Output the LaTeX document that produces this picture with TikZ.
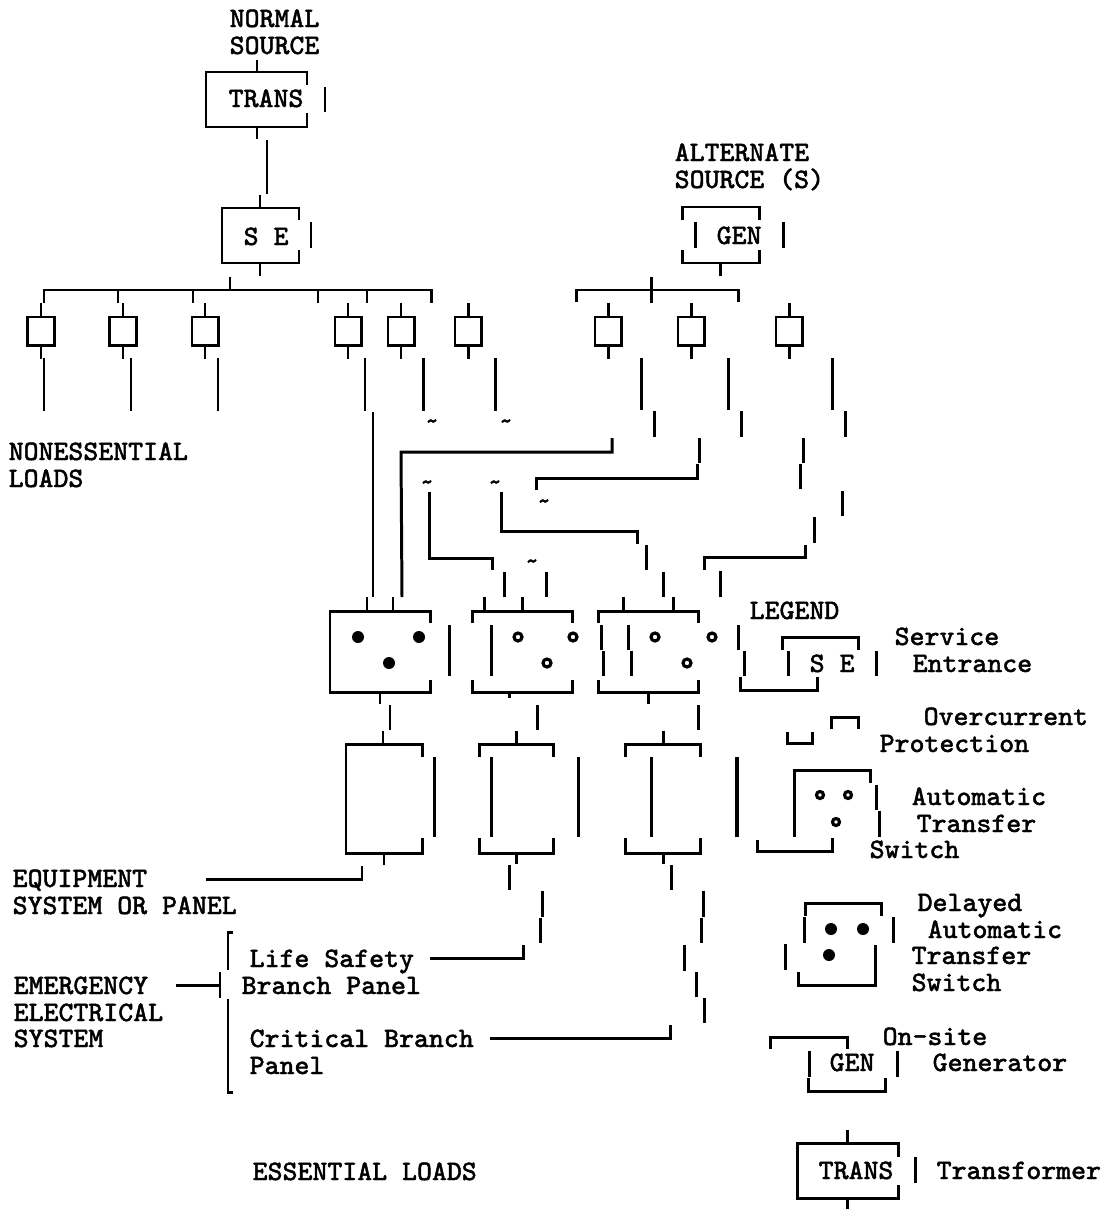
\documentclass[tikz,border=0pt]{standalone}
\usepackage{fontspec}
\newfontfamily\typewr[FakeBold=1.6]{Latin Modern Mono}
\tikzset{
  wire/.style={line width=0.85pt},
  lbl/.style={anchor=west, inner sep=0pt, text height=0.18cm, text depth=0pt,
    font=\fontsize{8.0}{9}\selectfont\typewr},
  tilde/.style={inner sep=0pt, font=\fontsize{7}{8}\selectfont\typewr},
  breaker/.style={draw, line width=0.85pt, minimum width=0.26cm, minimum height=0.28cm, inner sep=0pt},
  opendot/.style={line width=0.9pt},
}
\begin{document}
\begin{tikzpicture}[x=0.01cm, y=-0.01cm]
    \useasboundingbox (0, 0) rectangle (1104, 1209);

    % Normal source, transformer and service entrance
    \node[lbl] (normal) at (229, 18) {NORMAL};
    \node[lbl] (source) at (229, 45) {SOURCE};
    \node[lbl] (trans) at (228, 98) {TRANS};
    \node[lbl] (se) at (243, 236) {S E};
    \draw[wire] (307, 85) -- (307, 72) -- (206, 72) -- (206, 127) -- (307, 127) -- (307, 113);
    \draw[wire] (299, 220) -- (299, 208) -- (222, 208) -- (222, 263) -- (299, 263) -- (299, 250);

    % Bus under the service entrance
    \draw[wire] (44, 303) -- (44, 290) -- (431, 290) -- (431, 303);
    \foreach \tx in {118, 193, 318, 367}
      \draw[wire] (\tx, 290) -- (\tx, 303);
    \draw[wire] (230, 277) -- (230, 290);

    % Breakers on both buses
    \foreach \n/\bx in {1/41, 2/123, 3/205, 4/348, 5/401, 6/468, 7/608, 8/691, 9/789} {
      \node[breaker] (brk\n) at (\bx, 331) {};
      \draw[wire] (brk\n.north) -- ++(0, -13);
      \draw[wire] (brk\n.south) -- ++(0, 12);
    }

    % Alternate source
    \node[lbl] (alternate) at (674, 152) {ALTERNATE};
    \node[lbl] (altsource) at (674, 179) {SOURCE (S)};
    \node[lbl] (gen) at (716, 235) {GEN};
    \draw[wire] (682, 220) -- (682, 207) -- (759, 207) -- (759, 220);
    \draw[wire] (682, 250) -- (682, 263) -- (759, 263) -- (759, 250);
    \draw[wire] (576, 302) -- (576, 290) -- (738, 290) -- (738, 302);
    \draw[wire] (651, 277) -- (651, 303);

    % Loose vertical pieces: x, top, bottom
    \foreach \bx/\ya/\yb in {
      257/60/72, 325/87/112, 257/127/139, 267/140/194, 260/195/208, 311/222/248,
      260/263/276, 695/222/248, 783/222/248, 720/263/276,
      44/358/411, 131/358/411, 218/358/411, 365/358/411, 423/358/411, 495/358/411,
      641/358/410, 728/358/410, 832/358/410, 654/411/437, 741/411/437, 845/411/437,
      699/438/463, 803/438/463, 800/464/489, 842/491/516, 814/517/543, 646/545/570,
      373/412/597, 504/572/597, 546/572/597, 663/572/597, 720/571/597,
      367/597/611, 393/597/611, 484/597/611, 522/597/611, 623/597/611, 673/597/611,
      449/625/676, 491/625/676, 601/625/650, 603/651/676, 628/625/650, 631/651/676,
      380/692/704, 509/692/698, 648/692/704, 390/705/730, 537/705/730, 698/705/730,
      383/731/744, 516/731/744, 663/731/744,
      434/757/837, 491/757/837, 578/757/837, 651/757/837, 737.5/757/837,
      384/853/865, 516/853/864, 663/853/864, 509/865/890, 671/865/890,
      542/891/917, 540/918/943, 703/891/917, 701/918/943,
      684/945/971, 696/972/997, 704/998/1023, 220/972/998}
      \draw[wire] (\bx, \ya) -- (\bx, \yb);

    % Feeders that turn
    \draw[wire] (612, 438) -- (612, 452) -- (401, 452) -- (402, 597);
    \draw[wire] (697, 464) -- (697, 478) -- (536, 478) -- (536, 490);
    \draw[wire] (429, 492) -- (429, 558) -- (492, 558) -- (492, 570);
    \draw[wire] (501, 492) -- (501, 531) -- (637, 531) -- (637, 544);
    \draw[wire] (805, 545) -- (805, 557) -- (704, 557) -- (704, 570);

    % Marks on the feeders
    \node[tilde] (m1) at (432, 424) {\textasciitilde};
    \node[tilde] (m2) at (506, 424) {\textasciitilde};
    \node[tilde] (m3) at (544, 504) {\textasciitilde};
    \node[tilde] (m4) at (427, 485) {\textasciitilde};
    \node[tilde] (m5) at (495, 485) {\textasciitilde};
    \node[tilde] (m6) at (532, 564) {\textasciitilde};

    % Transfer switches
    \draw[wire] (430, 623) -- (430, 611) -- (330, 611) -- (330, 692) -- (430, 692) -- (430, 680);
    \draw[wire] (472, 623) -- (472, 611) -- (572, 611) -- (572, 623);
    \draw[wire] (472, 680) -- (472, 692) -- (572, 692) -- (572, 680);
    \draw[wire] (598, 623) -- (598, 611) -- (698, 611) -- (698, 623);
    \draw[wire] (598, 680) -- (598, 692) -- (698, 692) -- (698, 680);
    \foreach \dx/\dy in {358/637, 419/637, 389/663, 831/929, 863/929, 829/955}
      \fill (\dx, \dy) circle (6);
    \foreach \dx/\dy in {518/637, 573/637, 547/663, 655/637, 712/637, 687/663}
      \draw[opendot] (\dx, \dy) circle (4);

    % Panels
    \draw[wire] (422, 757) -- (422, 744) -- (346, 744) -- (346, 853) -- (422, 853) -- (422, 838);
    \draw[wire] (479, 757) -- (479, 744) -- (553, 744) -- (553, 757);
    \draw[wire] (479, 838) -- (479, 853) -- (553, 853) -- (553, 838);
    \draw[wire] (625, 757) -- (625, 744) -- (700, 744) -- (700, 757);
    \draw[wire] (625, 838) -- (625, 853) -- (700, 853) -- (700, 838);

    % Left hand labels and their leaders
    \node[lbl] (nonessential) at (8, 451) {NONESSENTIAL};
    \node[lbl] (nonloads) at (8, 478) {LOADS};
    \node[lbl] (equipment) at (12, 878) {EQUIPMENT};
    \node[lbl] (eqsystem) at (12, 905) {SYSTEM OR PANEL};
    \node[lbl] (emergency) at (13, 985) {EMERGENCY};
    \node[lbl] (electrical) at (13, 1012) {ELECTRICAL};
    \node[lbl] (emsystem) at (13, 1038) {SYSTEM};
    \node[lbl] (life) at (249, 958) {Life Safety};
    \node[lbl] (branch) at (241, 985) {Branch Panel};
    \node[lbl] (critical) at (249, 1038) {Critical Branch};
    \node[lbl] (panel) at (249, 1065) {Panel};
    \node[lbl] (essential) at (252, 1171) {ESSENTIAL LOADS};
    \draw[wire] (362, 866) -- (362, 879) -- (206, 879);
    \draw[wire] (523, 945) -- (523, 958) -- (430, 958);
    \draw[wire] (670, 1025) -- (670, 1038) -- (490, 1038);
    \draw[wire] (176, 985) -- (220, 985);
    \draw[wire] (233, 932) -- (228, 932) -- (228, 970);
    \draw[wire] (228, 999) -- (228, 1092) -- (233, 1092);

    % Legend
    \node[lbl] (legend) at (749, 610) {LEGEND};
    \node[lbl] (legse) at (809, 663) {S E};
    \node[lbl] (service) at (894, 636) {Service};
    \node[lbl] (entrance) at (912, 663) {Entrance};
    \draw[wire] (782, 650) -- (782, 637) -- (858, 637) -- (858, 650);
    \draw[wire] (740, 677) -- (740, 690) -- (817, 690) -- (817, 677);
    \foreach \bx/\ya/\yb in {738/625/650, 744/651/676, 788/651/676, 876/651/676,
      736/757/837, 876/785/810, 879/811/837, 804/917/943, 893/917/943, 785/944/970,
      809/1051/1077, 897/1051/1077, 847/1130/1143, 915/1157/1183, 847/1198/1209}
      \draw[wire] (\bx, \ya) -- (\bx, \yb);

    \node[lbl] (overcurrent) at (923, 716) {Overcurrent};
    \node[lbl] (protection) at (879, 743) {Protection};
    \draw[wire] (831, 729) -- (831, 717) -- (858, 717) -- (858, 729);
    \draw[wire] (787, 732) -- (787, 743) -- (812, 743) -- (812, 732);

    \node[lbl] (automatic) at (911, 796) {Automatic};
    \node[lbl] (transfer) at (916, 823) {Transfer};
    \node[lbl] (switch) at (869, 849) {Switch};
    \draw[wire] (794, 837) -- (794, 770) -- (870, 770) -- (870, 783);
    \draw[wire] (757, 840) -- (757, 851) -- (832, 851) -- (832, 838);
    \foreach \dx/\dy in {820/795, 848/795, 836/822}
      \draw[opendot] (\dx, \dy) circle (3.5);

    \node[lbl] (delayed) at (917, 902) {Delayed};
    \node[lbl] (delauto) at (927, 929) {Automatic};
    \node[lbl] (deltransfer) at (911, 955) {Transfer};
    \node[lbl] (delswitch) at (911, 982) {Switch};
    \draw[wire] (805, 916) -- (805, 903) -- (881, 903) -- (881, 916);
    \draw[wire] (798, 972) -- (798, 985) -- (875, 985) -- (875, 945);

    \node[lbl] (onsite) at (882, 1036) {On-site};
    \node[lbl] (generator) at (932, 1062) {Generator};
    \node[lbl] (leggen) at (829, 1062) {GEN};
    \draw[wire] (770, 1049) -- (770, 1037) -- (847, 1037) -- (847, 1049);
    \draw[wire] (808, 1078) -- (808, 1091) -- (885, 1091) -- (885, 1078);

    \node[lbl] (legtrans) at (818, 1170) {TRANS};
    \node[lbl] (transformer) at (936, 1170) {Transformer};
    \draw[wire] (898, 1157) -- (898, 1143) -- (797, 1143) -- (797, 1198) -- (898, 1198) -- (898, 1185);
  \end{tikzpicture}
\end{document}
